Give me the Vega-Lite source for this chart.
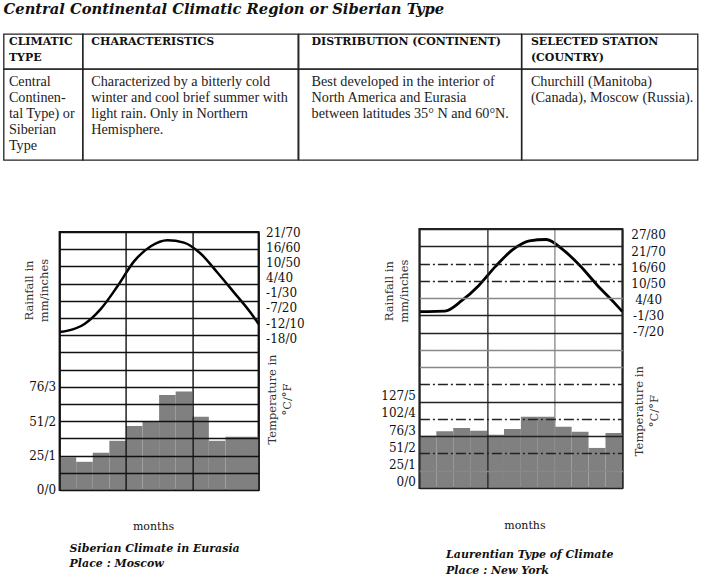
{
  "$schema": "https://vega.github.io/schema/vega-lite/v6.json",
  "background": "white",
  "padding": {"left": 2.6, "top": 2, "right": 3, "bottom": 3},
  "title": {"text": "Central Continental Climatic Region or Siberian Type", "anchor": "start", "frame": "group", "font": "DejaVu Serif", "fontStyle": "italic", "fontWeight": "bold", "fontSize": 14.7, "color": "#111", "baseline": "alphabetic", "offset": 4.3},
  "datasets": {
    "table": [
      {"sec": "h", "col": 1, "line": 0, "txt": "CLIMATIC"},
      {"sec": "h", "col": 1, "line": 1, "txt": "TYPE"},
      {"sec": "h", "col": 2, "line": 0, "txt": "CHARACTERISTICS"},
      {"sec": "h", "col": 3, "line": 0, "txt": "DISTRIBUTION (CONTINENT)"},
      {"sec": "h", "col": 4, "line": 0, "txt": "SELECTED STATION"},
      {"sec": "h", "col": 4, "line": 1, "txt": "(COUNTRY)"},
      {"sec": "b", "col": 1, "line": 0, "txt": "Central"},
      {"sec": "b", "col": 1, "line": 1, "txt": "Continen-"},
      {"sec": "b", "col": 1, "line": 2, "txt": "tal Type) or"},
      {"sec": "b", "col": 1, "line": 3, "txt": "Siberian"},
      {"sec": "b", "col": 1, "line": 4, "txt": "Type"},
      {"sec": "b", "col": 2, "line": 0, "txt": "Characterized by a bitterly cold"},
      {"sec": "b", "col": 2, "line": 1, "txt": "winter and cool brief summer with"},
      {"sec": "b", "col": 2, "line": 2, "txt": "light rain. Only in Northern"},
      {"sec": "b", "col": 2, "line": 3, "txt": "Hemisphere."},
      {"sec": "b", "col": 3, "line": 0, "txt": "Best developed in the interior of"},
      {"sec": "b", "col": 3, "line": 1, "txt": "North America and Eurasia"},
      {"sec": "b", "col": 3, "line": 2, "txt": "between latitudes 35° N and 60°N."},
      {"sec": "b", "col": 4, "line": 0, "txt": "Churchill (Manitoba)"},
      {"sec": "b", "col": 4, "line": 1, "txt": "(Canada), Moscow (Russia)."}
    ]
  },
  "spacing": 54,
  "vconcat": [
    {
      "columns": 4,
      "align": "each",
      "bounds": "flush",
      "spacing": 0,
      "concat": [
        {"width": 79, "height": 35, "view": {"stroke": "#222", "strokeWidth": 1.3}, "data": {"name": "table"}, "transform": [{"filter": "datum.sec == 'h' && datum.col == 1"}], "mark": {"type": "text", "align": "left", "baseline": "middle", "font": "DejaVu Serif", "fontWeight": "bold", "fontSize": 11, "color": "#111"}, "encoding": {"x": {"value": 5.3}, "y": {"field": "line", "type": "quantitative", "scale": {"domain": [0, 1], "range": [8.4, 24.4], "nice": false}, "axis": null}, "text": {"field": "txt", "type": "nominal"}}},
        {"width": 215.3, "height": 35, "view": {"stroke": "#222", "strokeWidth": 1.3}, "data": {"name": "table"}, "transform": [{"filter": "datum.sec == 'h' && datum.col == 2"}], "mark": {"type": "text", "align": "left", "baseline": "middle", "font": "DejaVu Serif", "fontWeight": "bold", "fontSize": 11, "color": "#111"}, "encoding": {"x": {"value": 8.7}, "y": {"field": "line", "type": "quantitative", "scale": {"domain": [0, 1], "range": [8.4, 24.4], "nice": false}, "axis": null}, "text": {"field": "txt", "type": "nominal"}}},
        {"width": 222.7, "height": 35, "view": {"stroke": "#222", "strokeWidth": 1.3}, "data": {"name": "table"}, "transform": [{"filter": "datum.sec == 'h' && datum.col == 3"}], "mark": {"type": "text", "align": "left", "baseline": "middle", "font": "DejaVu Serif", "fontWeight": "bold", "fontSize": 11, "color": "#111"}, "encoding": {"x": {"value": 13}, "y": {"field": "line", "type": "quantitative", "scale": {"domain": [0, 1], "range": [8.4, 24.4], "nice": false}, "axis": null}, "text": {"field": "txt", "type": "nominal"}}},
        {"width": 176, "height": 35, "view": {"stroke": "#222", "strokeWidth": 1.3}, "data": {"name": "table"}, "transform": [{"filter": "datum.sec == 'h' && datum.col == 4"}], "mark": {"type": "text", "align": "left", "baseline": "middle", "font": "DejaVu Serif", "fontWeight": "bold", "fontSize": 11, "color": "#111"}, "encoding": {"x": {"value": 9.3}, "y": {"field": "line", "type": "quantitative", "scale": {"domain": [0, 1], "range": [8.4, 24.4], "nice": false}, "axis": null}, "text": {"field": "txt", "type": "nominal"}}},
        {"width": 79, "height": 91, "view": {"stroke": "#222", "strokeWidth": 1.3}, "data": {"name": "table"}, "transform": [{"filter": "datum.sec == 'b' && datum.col == 1"}], "mark": {"type": "text", "align": "left", "baseline": "middle", "font": "Liberation Serif", "fontSize": 14.2, "color": "#222"}, "encoding": {"x": {"value": 5.3}, "y": {"field": "line", "type": "quantitative", "scale": {"domain": [0, 1], "range": [12.7, 28.7], "nice": false}, "axis": null}, "text": {"field": "txt", "type": "nominal"}}},
        {"width": 215.3, "height": 91, "view": {"stroke": "#222", "strokeWidth": 1.3}, "data": {"name": "table"}, "transform": [{"filter": "datum.sec == 'b' && datum.col == 2"}], "mark": {"type": "text", "align": "left", "baseline": "middle", "font": "Liberation Serif", "fontSize": 14.2, "color": "#222"}, "encoding": {"x": {"value": 8.7}, "y": {"field": "line", "type": "quantitative", "scale": {"domain": [0, 1], "range": [12.7, 28.7], "nice": false}, "axis": null}, "text": {"field": "txt", "type": "nominal"}}},
        {"width": 222.7, "height": 91, "view": {"stroke": "#222", "strokeWidth": 1.3}, "data": {"name": "table"}, "transform": [{"filter": "datum.sec == 'b' && datum.col == 3"}], "mark": {"type": "text", "align": "left", "baseline": "middle", "font": "Liberation Serif", "fontSize": 14.2, "color": "#222"}, "encoding": {"x": {"value": 13}, "y": {"field": "line", "type": "quantitative", "scale": {"domain": [0, 1], "range": [12.7, 28.7], "nice": false}, "axis": null}, "text": {"field": "txt", "type": "nominal"}}},
        {"width": 176, "height": 91, "view": {"stroke": "#222", "strokeWidth": 1.3}, "data": {"name": "table"}, "transform": [{"filter": "datum.sec == 'b' && datum.col == 4"}], "mark": {"type": "text", "align": "left", "baseline": "middle", "font": "Liberation Serif", "fontSize": 14.2, "color": "#222"}, "encoding": {"x": {"value": 9.3}, "y": {"field": "line", "type": "quantitative", "scale": {"domain": [0, 1], "range": [12.7, 28.7], "nice": false}, "axis": null}, "text": {"field": "txt", "type": "nominal"}}}
      ]
    },
    {
      "spacing": 0,
      "hconcat": [
        {"width": 18.3, "height": 4, "view": {"stroke": null}, "data": {"values": [{"s": 1}]}, "mark": {"type": "rect", "opacity": 0}, "encoding": {}},
        {
          "spacing": 73.8,
          "hconcat": [
            {
              "spacing": 0,
              "vconcat": [
                {"width": 5, "height": 9.5, "view": {"stroke": null}, "data": {"values": [{"s": 1}]}, "mark": {"type": "rect", "opacity": 0}, "encoding": {}},
                {
                  "width": 199,
                  "height": 258,
                  "view": {"stroke": "#111", "strokeWidth": 2},
                  "title": {"text": ["Siberian Climate in Eurasia", "Place : Moscow"], "orient": "bottom", "anchor": "start", "frame": "group", "dx": 10, "offset": 11, "font": "DejaVu Serif", "fontStyle": "italic", "fontWeight": "bold", "fontSize": 11, "lineHeight": 15.7, "color": "#111"},
                  "layer": [
                    {
                      "data": {"values": [
                        {"m0": 0, "m1": 1, "rain": 0.95},
                        {"m0": 1, "m1": 2, "rain": 0.82},
                        {"m0": 2, "m1": 3, "rain": 1.08},
                        {"m0": 3, "m1": 4, "rain": 1.43},
                        {"m0": 4, "m1": 5, "rain": 1.86},
                        {"m0": 5, "m1": 6, "rain": 1.99},
                        {"m0": 6, "m1": 7, "rain": 2.76},
                        {"m0": 7, "m1": 8, "rain": 2.86},
                        {"m0": 8, "m1": 9, "rain": 2.13},
                        {"m0": 9, "m1": 10, "rain": 1.43},
                        {"m0": 10, "m1": 11, "rain": 1.55},
                        {"m0": 11, "m1": 12, "rain": 1.55}
                      ]},
                      "mark": {"type": "rect", "fill": "#808080"},
                      "encoding": {
                        "x": {"field": "m0", "type": "quantitative", "scale": {"domain": [0, 12], "nice": false, "zero": false},
                          "axis": {"values": [0, 0.5, 1, 1.5, 2, 2.5, 3, 3.5, 4, 4.5, 5, 5.5, 6, 6.5, 7, 7.5, 8, 8.5, 9, 9.5, 10, 10.5, 11, 11.5, 12],
                            "grid": true, "gridColor": "#111", "gridWidth": 1.4,
                            "gridOpacity": {"condition": {"test": "datum.value % 1 == 0", "value": 1}, "value": 0},
                            "labelExpr": "(datum.value % 1 != 0) ? substring('JFMAMJJASOND', floor(datum.value), floor(datum.value) + 1) : ''",
                            "labelFontSize": 11, "labelPadding": 6,
                            "title": "months", "titleX": 93.4, "titleY": 36.7, "titleBaseline": "middle", "titleAlign": "center", "titleFontSize": 11, "titleColor": "#111", "zindex": 1}},
                        "x2": {"field": "m1"},
                        "y": {"field": "rain", "type": "quantitative", "scale": {"domain": [0, 7.5], "nice": false},
                          "axis": {"values": [0, 0.5, 1, 1.5, 2, 2.5, 3, 3.5, 4, 4.5, 5, 5.5, 6, 6.5, 7, 7.5],
                            "grid": true, "gridColor": "#111", "gridWidth": 1.4,
                            "labelExpr": "(datum.value % 1 || datum.value > 3) ? '' : round(datum.value * 25.4) + '/' + datum.value",
                            "labelPadding": 4, "labelFontSize": 12,
                            "title": ["Rainfall in", "mm/inches"], "titleAngle": 270, "titleX": -30, "titleY": 58, "titleAlign": "center", "titleBaseline": "middle", "titleLineHeight": 15, "zindex": 1}},
                        "y2": {"datum": 0}
                      }
                    },
                    {
                      "data": {"values": [
                        {"m": 0, "temp": 4.1},
                        {"m": 0.5, "temp": 5.0},
                        {"m": 1.5, "temp": 9.4},
                        {"m": 2.5, "temp": 19.5},
                        {"m": 3.5, "temp": 34.4},
                        {"m": 4.5, "temp": 50.8},
                        {"m": 5.5, "temp": 60.6},
                        {"m": 6.5, "temp": 64.6},
                        {"m": 7.5, "temp": 63.0},
                        {"m": 8.5, "temp": 55.8},
                        {"m": 9.5, "temp": 43.5},
                        {"m": 10.5, "temp": 30.4},
                        {"m": 11.5, "temp": 17.1},
                        {"m": 12, "temp": 9.4}
                      ]},
                      "mark": {"type": "line", "interpolate": "monotone", "color": "#000", "strokeWidth": 2.5},
                      "encoding": {
                        "x": {"field": "m", "type": "quantitative"},
                        "y": {"field": "temp", "type": "quantitative", "scale": {"domain": [-100, 70], "nice": false, "zero": false},
                          "axis": {"orient": "right", "values": [0, 10, 20, 30, 40, 50, 60, 70], "grid": false,
                            "labelExpr": "round((datum.value - 32) * 5 / 9) + '/' + datum.value",
                            "labelAlign": "left", "labelPadding": 7, "labelFontSize": 12,
                            "title": ["Temperature in", "°C/°F"], "titleAngle": 270, "titleX": 14.4, "titleY": 167, "titleAlign": "center", "titleBaseline": "middle", "titleLineHeight": 15}}
                      }
                    }
                  ],
                  "resolve": {"scale": {"y": "independent"}}
                }
              ]
            },
            {
              "spacing": 0,
              "vconcat": [
                {"width": 5, "height": 1, "view": {"stroke": null}, "data": {"values": [{"s": 1}]}, "mark": {"type": "rect", "opacity": 0}, "encoding": {}},
                {
                  "width": 203,
                  "height": 259,
                  "view": {"stroke": "#222", "strokeWidth": 2},
                  "title": {"text": ["Laurentian Type of Climate", "Place : New York"], "orient": "bottom", "anchor": "start", "frame": "group", "dx": 26.7, "offset": 18, "font": "DejaVu Serif", "fontStyle": "italic", "fontWeight": "bold", "fontSize": 11, "lineHeight": 16.5, "color": "#111"},
                  "layer": [
                    {
                      "data": {"values": [
                        {"m0": 0, "m1": 1, "rain": 3.03},
                        {"m0": 1, "m1": 2, "rain": 3.28},
                        {"m0": 2, "m1": 3, "rain": 3.47},
                        {"m0": 3, "m1": 4, "rain": 3.32},
                        {"m0": 4, "m1": 5, "rain": 3.09},
                        {"m0": 5, "m1": 6, "rain": 3.42},
                        {"m0": 6, "m1": 7, "rain": 4.13},
                        {"m0": 7, "m1": 8, "rain": 4.13},
                        {"m0": 8, "m1": 9, "rain": 3.55},
                        {"m0": 9, "m1": 10, "rain": 3.26},
                        {"m0": 10, "m1": 11, "rain": 2.32},
                        {"m0": 11, "m1": 12, "rain": 3.18}
                      ]},
                      "mark": {"type": "rect", "fill": "#808080"},
                      "encoding": {
                        "x": {"field": "m0", "type": "quantitative", "scale": {"domain": [0, 12], "nice": false, "zero": false},
                          "axis": {"values": [0, 0.5, 1, 1.5, 2, 2.5, 3, 3.5, 4, 4.5, 5, 5.5, 6, 6.5, 7, 7.5, 8, 8.5, 9, 9.5, 10, 10.5, 11, 11.5, 12],
                            "grid": true, "gridWidth": 1.3,
                            "gridColor": {"condition": {"test": "datum.value == 1 || datum.value == 8", "value": "#888"}, "value": "#222"},
                            "gridDash": {"condition": {"test": "indexof([2, 3, 5, 6, 9, 11], datum.value) >= 0", "value": [10, 3, 2, 3]}, "value": [1, 0]},
                            "gridOpacity": {"condition": {"test": "datum.value % 1 == 0", "value": 1}, "value": 0},
                            "labelExpr": "(datum.value % 1 != 0) ? substring('JFMAMJJASOND', floor(datum.value), floor(datum.value) + 1) : ''",
                            "labelFontSize": 11, "labelPadding": 4,
                            "title": "months", "titleX": 105, "titleY": 37.7, "titleBaseline": "middle", "titleAlign": "center", "titleFontSize": 11, "titleColor": "#111", "zindex": 1}},
                        "x2": {"field": "m1"},
                        "y": {"field": "rain", "type": "quantitative", "scale": {"domain": [0, 15], "nice": false},
                          "axis": {"values": [0, 1, 2, 3, 4, 5, 6, 7, 8, 9, 10, 11, 12, 13, 14, 15],
                            "grid": true, "gridWidth": 1.3,
                            "gridColor": {"condition": {"test": "indexof([1, 7, 8, 11], datum.value) >= 0", "value": "#888"}, "value": "#222"},
                            "gridDash": {"condition": {"test": "indexof([2, 4, 6, 12, 13], datum.value) >= 0", "value": [10, 3, 2, 3]}, "value": [1, 0]},
                            "labelExpr": "datum.value > 5 ? '' : round(datum.value * 25.4) + '/' + datum.value",
                            "labelPadding": 4, "labelFontSize": 12, "labelOffset": -6,
                            "title": ["Rainfall in", "mm/inches"], "titleAngle": 270, "titleX": -30, "titleY": 61.7, "titleAlign": "center", "titleBaseline": "middle", "titleLineHeight": 15, "zindex": 1}},
                        "y2": {"datum": 0}
                      }
                    },
                    {
                      "data": {"values": [
                        {"m": 0, "temp": 32.4},
                        {"m": 0.5, "temp": 32.4},
                        {"m": 1.5, "temp": 32.7},
                        {"m": 2.5, "temp": 39.2},
                        {"m": 3.5, "temp": 48.5},
                        {"m": 4.5, "temp": 60.5},
                        {"m": 5.5, "temp": 70.7},
                        {"m": 6.5, "temp": 76.3},
                        {"m": 7.5, "temp": 77.2},
                        {"m": 8.5, "temp": 70.7},
                        {"m": 9.5, "temp": 60.9},
                        {"m": 10.5, "temp": 49.0},
                        {"m": 11.5, "temp": 38.2},
                        {"m": 12, "temp": 32.4}
                      ]},
                      "mark": {"type": "line", "interpolate": "monotone", "color": "#000", "strokeWidth": 2.8},
                      "encoding": {
                        "x": {"field": "m", "type": "quantitative"},
                        "y": {"field": "temp", "type": "quantitative", "scale": {"domain": [-77, 83.7], "nice": false, "zero": false},
                          "axis": {"orient": "right", "values": [20, 30, 40, 50, 60, 70, 80], "grid": false,
                            "labelExpr": "round((datum.value - 32) * 5 / 9) + '/' + datum.value",
                            "labelAlign": "center", "labelPadding": 25.7, "labelFontSize": 12,
                            "title": ["Temperature in", "°C/°F"], "titleAngle": 270, "titleX": 17, "titleY": 181.7, "titleAlign": "center", "titleBaseline": "middle", "titleLineHeight": 15}}
                      }
                    }
                  ],
                  "resolve": {"scale": {"y": "independent"}}
                }
              ]
            }
          ]
        }
      ]
    }
  ],
  "config": {
    "font": "DejaVu Serif",
    "axis": {"labelFont": "DejaVu Serif", "titleFont": "DejaVu Serif", "labelColor": "#111", "titleColor": "#333", "titleFontWeight": "normal", "titleFontSize": 11.5, "ticks": false, "tickSize": 0, "domain": false, "labelOverlap": false, "labelFlush": false},
    "view": {"stroke": "#222"}
  }
}
